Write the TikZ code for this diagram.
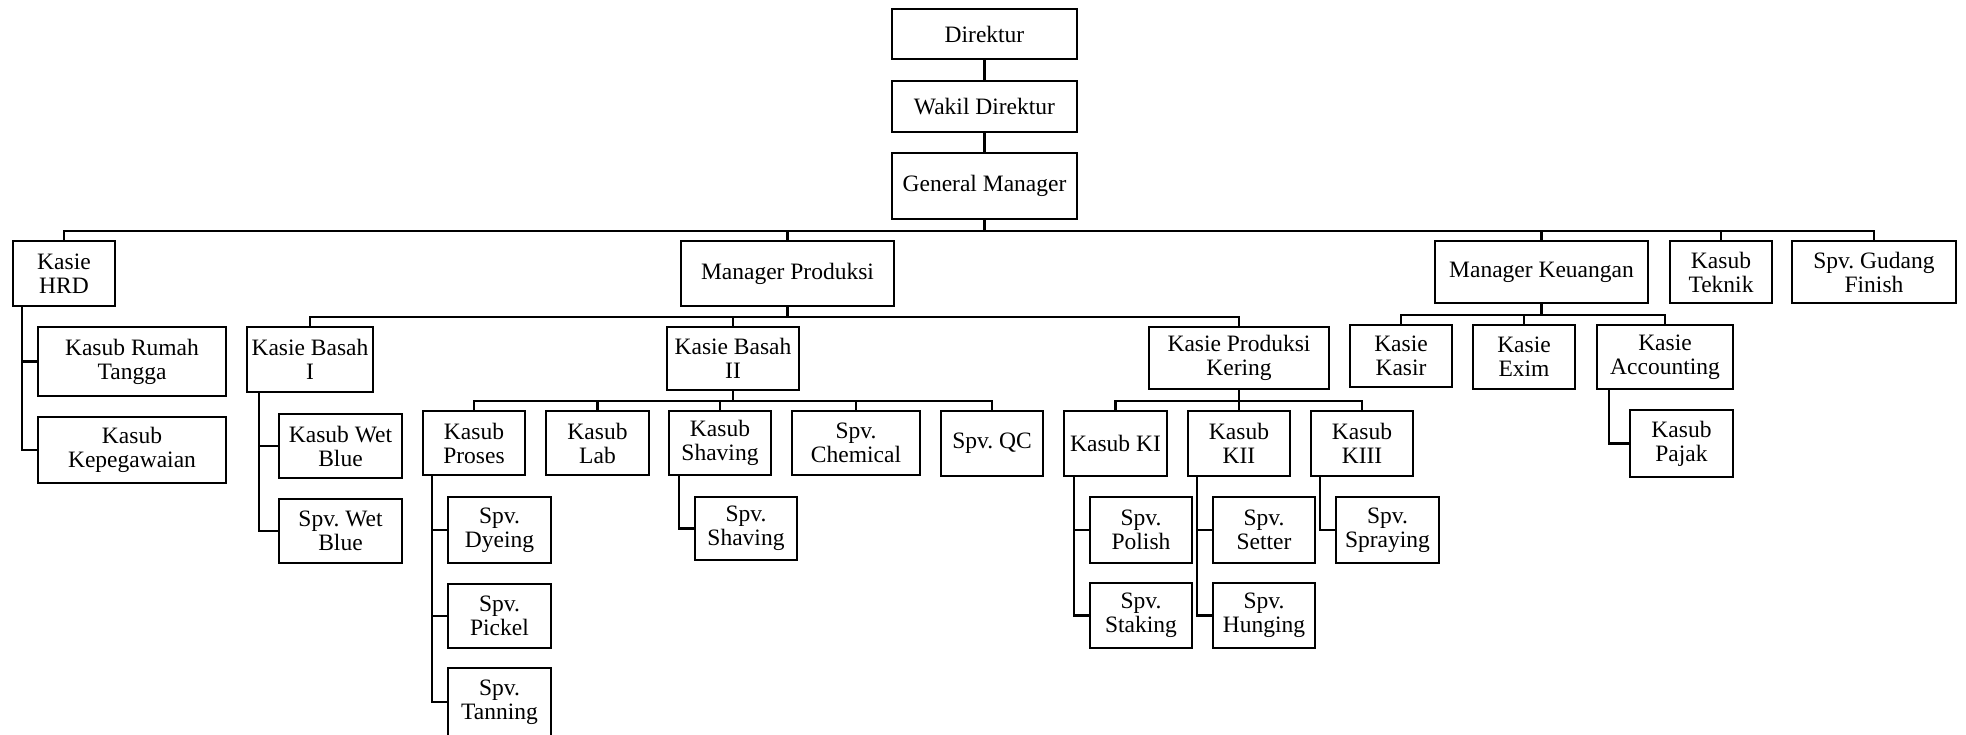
\documentclass[tikz,border=0pt]{standalone}
\usepackage{fontspec}
\setmainfont{Liberation Serif}
\frenchspacing
\tikzset{
  box/.style={draw=black, line width=2.2pt, fill=white, inner sep=0pt, align=center, font=\fontsize{23.5}{24}\selectfont},
  conn/.style={draw=black, line width=2.2pt},
}
\newcommand\bx[6]{%
  \node[box, minimum width={(#4-#2)*1pt}, minimum height={(#5-#3)*1pt}] (#1) at ({(#2+#4)/2},{(#3+#5)/2}) {#6};}
\begin{document}
\begin{tikzpicture}[x=1pt,y=-1pt]
\path[use as bounding box] (0,0) rectangle (1966,734);
\clip (0,0) rectangle (1966,734);
\fill[white] (0,0) rectangle (1966,734);
% boxes
\bx{dir}{892}{9}{1077}{59}{Direktur}
\bx{wdir}{892}{81}{1077}{132}{Wakil Direktur}
\bx{gm}{892}{153}{1077}{219}{General Manager}
\bx{hrd}{13}{241}{115}{306}{Kasie\\HRD}
\bx{mp}{681}{241}{894}{306}{Manager Produksi}
\bx{mk}{1435}{241}{1648}{303}{Manager Keuangan}
\bx{kt}{1670}{241}{1772}{303}{Kasub\\Teknik}
\bx{sgf}{1792}{241}{1956}{303}{Spv. Gudang\\Finish}
\bx{krt}{38}{327}{226}{396}{Kasub Rumah\\Tangga}
\bx{kkp}{38}{417}{226}{483}{Kasub\\Kepegawaian}
\bx{kb1}{247}{327}{373}{392}{Kasie Basah\\I}
\bx{kb2}{667}{327}{799}{390}{Kasie Basah\\II}
\bx{kpk}{1149}{327}{1329}{389}{Kasie Produksi\\Kering}
\bx{kwb}{279}{414}{402}{478}{Kasub Wet\\Blue}
\bx{swb}{279}{499}{402}{563}{Spv. Wet\\Blue}
\bx{kpr}{423}{411}{525}{475}{Kasub\\Proses}
\bx{klab}{546}{411}{649}{475}{Kasub\\Lab}
\bx{ksh}{669}{411}{771}{475}{Kasub\\Shaving}
\bx{schem}{792}{411}{920}{475}{Spv.\\Chemical}
\bx{sqc}{941}{411}{1043}{476}{Spv. QC}
\bx{sdy}{448}{497}{551}{563}{Spv.\\Dyeing}
\bx{spk}{448}{584}{551}{648}{Spv.\\Pickel}
\bx{stn}{448}{668}{551}{736}{Spv.\\Tanning}
\bx{sshv}{695}{497}{797}{560}{Spv.\\Shaving}
\bx{kk1}{1064}{411}{1167}{476}{Kasub KI}
\bx{kk2}{1188}{411}{1290}{476}{Kasub\\KII}
\bx{kk3}{1311}{411}{1413}{476}{Kasub\\KIII}
\bx{spol}{1090}{497}{1192}{563}{Spv.\\Polish}
\bx{sstk}{1090}{583}{1192}{648}{Spv.\\Staking}
\bx{sset}{1213}{497}{1315}{563}{Spv.\\Setter}
\bx{shun}{1213}{583}{1315}{648}{Spv.\\Hunging}
\bx{sspr}{1336}{497}{1439}{563}{Spv.\\Spraying}
\bx{kks}{1350}{325}{1452}{387}{Kasie\\Kasir}
\bx{kex}{1473}{325}{1575}{389}{Kasie\\Exim}
\bx{kacc}{1597}{325}{1733}{389}{Kasie\\Accounting}
\bx{kpj}{1630}{410}{1733}{477}{Kasub\\Pajak}
% connectors
\draw[conn] (dir) -- (wdir);
\draw[conn] (wdir) -- (gm);
\foreach \c in {hrd,mp,mk,kt,sgf} \draw[conn] (gm.south) -- ++(0,11) -| (\c.north);
\foreach \c in {kb1,kb2,kpk} \draw[conn] (mp.south) -- ++(0,10) -| (\c.north);
\foreach \c in {kpr,klab,ksh,schem,sqc} \draw[conn] (kb2.south) -- ++(0,10) -| (\c.north);
\foreach \c in {kk1,kk2,kk3} \draw[conn] (kpk.south) -- ++(0,11) -| (\c.north);
\foreach \c in {kks,kex,kacc} \draw[conn] (mk.south) -- ++(0,11) -| (\c.north);
\foreach \c in {krt,kkp} \draw[conn] ([xshift=10pt]hrd.south west) |- (\c.west);
\foreach \c in {kwb,swb} \draw[conn] ([xshift=13pt]kb1.south west) |- (\c.west);
\foreach \c in {sdy,spk,stn} \draw[conn] ([xshift=10pt]kpr.south west) |- (\c.west);
\draw[conn] ([xshift=11pt]ksh.south west) |- (sshv.west);
\foreach \c in {spol,sstk} \draw[conn] ([xshift=11pt]kk1.south west) |- (\c.west);
\foreach \c in {sset,shun} \draw[conn] ([xshift=10pt]kk2.south west) |- (\c.west);
\draw[conn] ([xshift=10pt]kk3.south west) |- (sspr.west);
\draw[conn] ([xshift=13pt]kacc.south west) |- (kpj.west);
\end{tikzpicture}
\end{document}
